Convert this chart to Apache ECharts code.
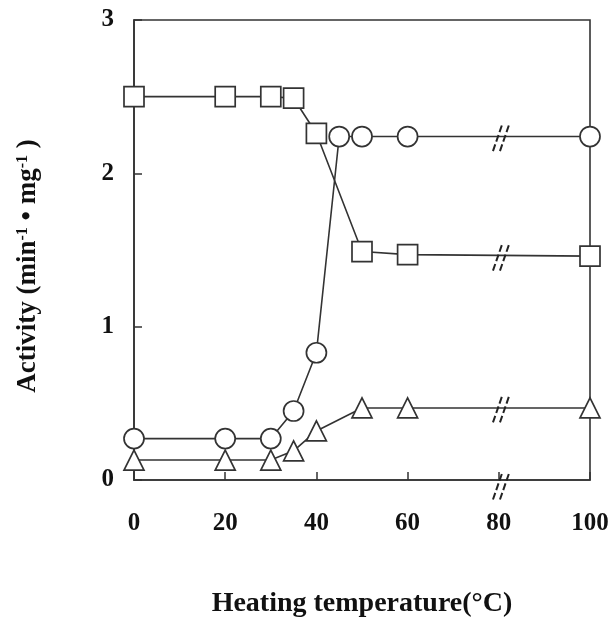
<!DOCTYPE html>
<html><head><meta charset="utf-8">
<script src="https://cdn.jsdelivr.net/npm/echarts@6/dist/echarts.min.js"></script>
<style>html,body{margin:0;padding:0;background:#fff}#c{width:615px;height:623px}</style>
</head><body><div id="c"></div>
<script>
const squareX = [0, 20, 30, 35, 40, 50, 60, 100];
const squareY = [2.50, 2.50, 2.50, 2.49, 2.26, 1.49, 1.47, 1.46];
const circleX = [0, 20, 30, 35, 40, 45, 50, 60, 100];
const circleY = [0.27, 0.27, 0.27, 0.45, 0.83, 2.24, 2.24, 2.24, 2.24];
const triangleX = [0, 20, 30, 35, 40, 50, 60, 100];
const triangleY = [0.13, 0.13, 0.13, 0.19, 0.32, 0.47, 0.47, 0.47];
const breakX = [80, 80, 80, 80];
const breakY = [2.24, 1.46, 0.47, 0];
const xTicks = [0, 20, 40, 60, 80, 100];
const yTicks = [0, 1, 2, 3];

const ink = '#333';
const serif = '"Liberation Serif", "Times New Roman", serif';
const zip = (a, b) => a.map((v, i) => [v, b[i]]);

const lineSeries = (data, symbol) => ({
  type: 'line', data, symbol, symbolSize: 20,
  lineStyle: { color: ink, width: 1.6 },
  itemStyle: { color: '#fff', borderColor: ink, borderWidth: 1.7 },
  z: 3
});

const chart = echarts.init(document.getElementById('c'), null, { renderer: 'canvas' });
chart.setOption({
  animation: false,
  grid: { left: 134, right: 25, top: 20, bottom: 143, show: true, borderColor: ink, borderWidth: 1.6, backgroundColor: 'transparent' },
  xAxis: {
    type: 'value', min: 0, max: 100, interval: 20,
    axisLine: { lineStyle: { color: ink, width: 1.6 } },
    axisTick: { inside: true, length: 8, lineStyle: { color: ink, width: 1.5 } },
    splitLine: { show: false },
    axisLabel: { color: '#111', fontFamily: serif, fontWeight: 'bold', fontSize: 25, margin: 31,
      formatter: v => xTicks.includes(v) ? String(v) : '' },
    name: 'Heating temperature(\u00B0C)', nameLocation: 'middle', nameGap: 110,
    nameTextStyle: { color: '#111', fontFamily: serif, fontWeight: 'bold', fontSize: 28 }
  },
  yAxis: {
    type: 'value', min: 0, max: 3, interval: 1,
    axisLine: { lineStyle: { color: ink, width: 1.6 } },
    axisTick: { inside: true, length: 8, lineStyle: { color: ink, width: 1.5 } },
    splitLine: { show: false },
    axisLabel: { color: '#111', fontFamily: serif, fontWeight: 'bold', fontSize: 25, margin: 20,
      formatter: v => yTicks.includes(v) ? String(v) : '' }
  },
  graphic: [{
    type: 'text', x: 28, y: 266, rotation: Math.PI / 2,
    style: {
      text: 'Activity (min{s|-1} \u2022 mg{s|-1} )',
      fill: '#111', font: 'bold 27px ' + serif, align: 'center', verticalAlign: 'middle',
      rich: { s: { fontSize: 16, fontWeight: 'bold', fontFamily: serif, fill: '#111', verticalAlign: 'top', padding: [0, 0, 11, 0] } }
    }
  }],
  series: [
    lineSeries(zip(circleX, circleY), 'circle'),
    lineSeries(zip(triangleX, triangleY), 'triangle'),
    lineSeries(zip(squareX, squareY), 'rect'),
    {
      type: 'custom', z: 5,
      data: zip(breakX, breakY),
      renderItem: (params, api) => {
        const p = api.coord([api.value(0), api.value(1)]);
        const cy = p[1] + (api.value(1) === 0 ? 7 : 2);
        const mk = dx => ({
          type: 'line',
          shape: { x1: p[0] + dx + 5, y1: cy - 13, x2: p[0] + dx - 4, y2: cy + 13 },
          style: { stroke: '#222', lineWidth: 2, lineDash: [7, 3] }
        });
        return { type: 'group', children: [mk(-2), mk(5)] };
      }
    }
  ]
});
</script></body></html>
